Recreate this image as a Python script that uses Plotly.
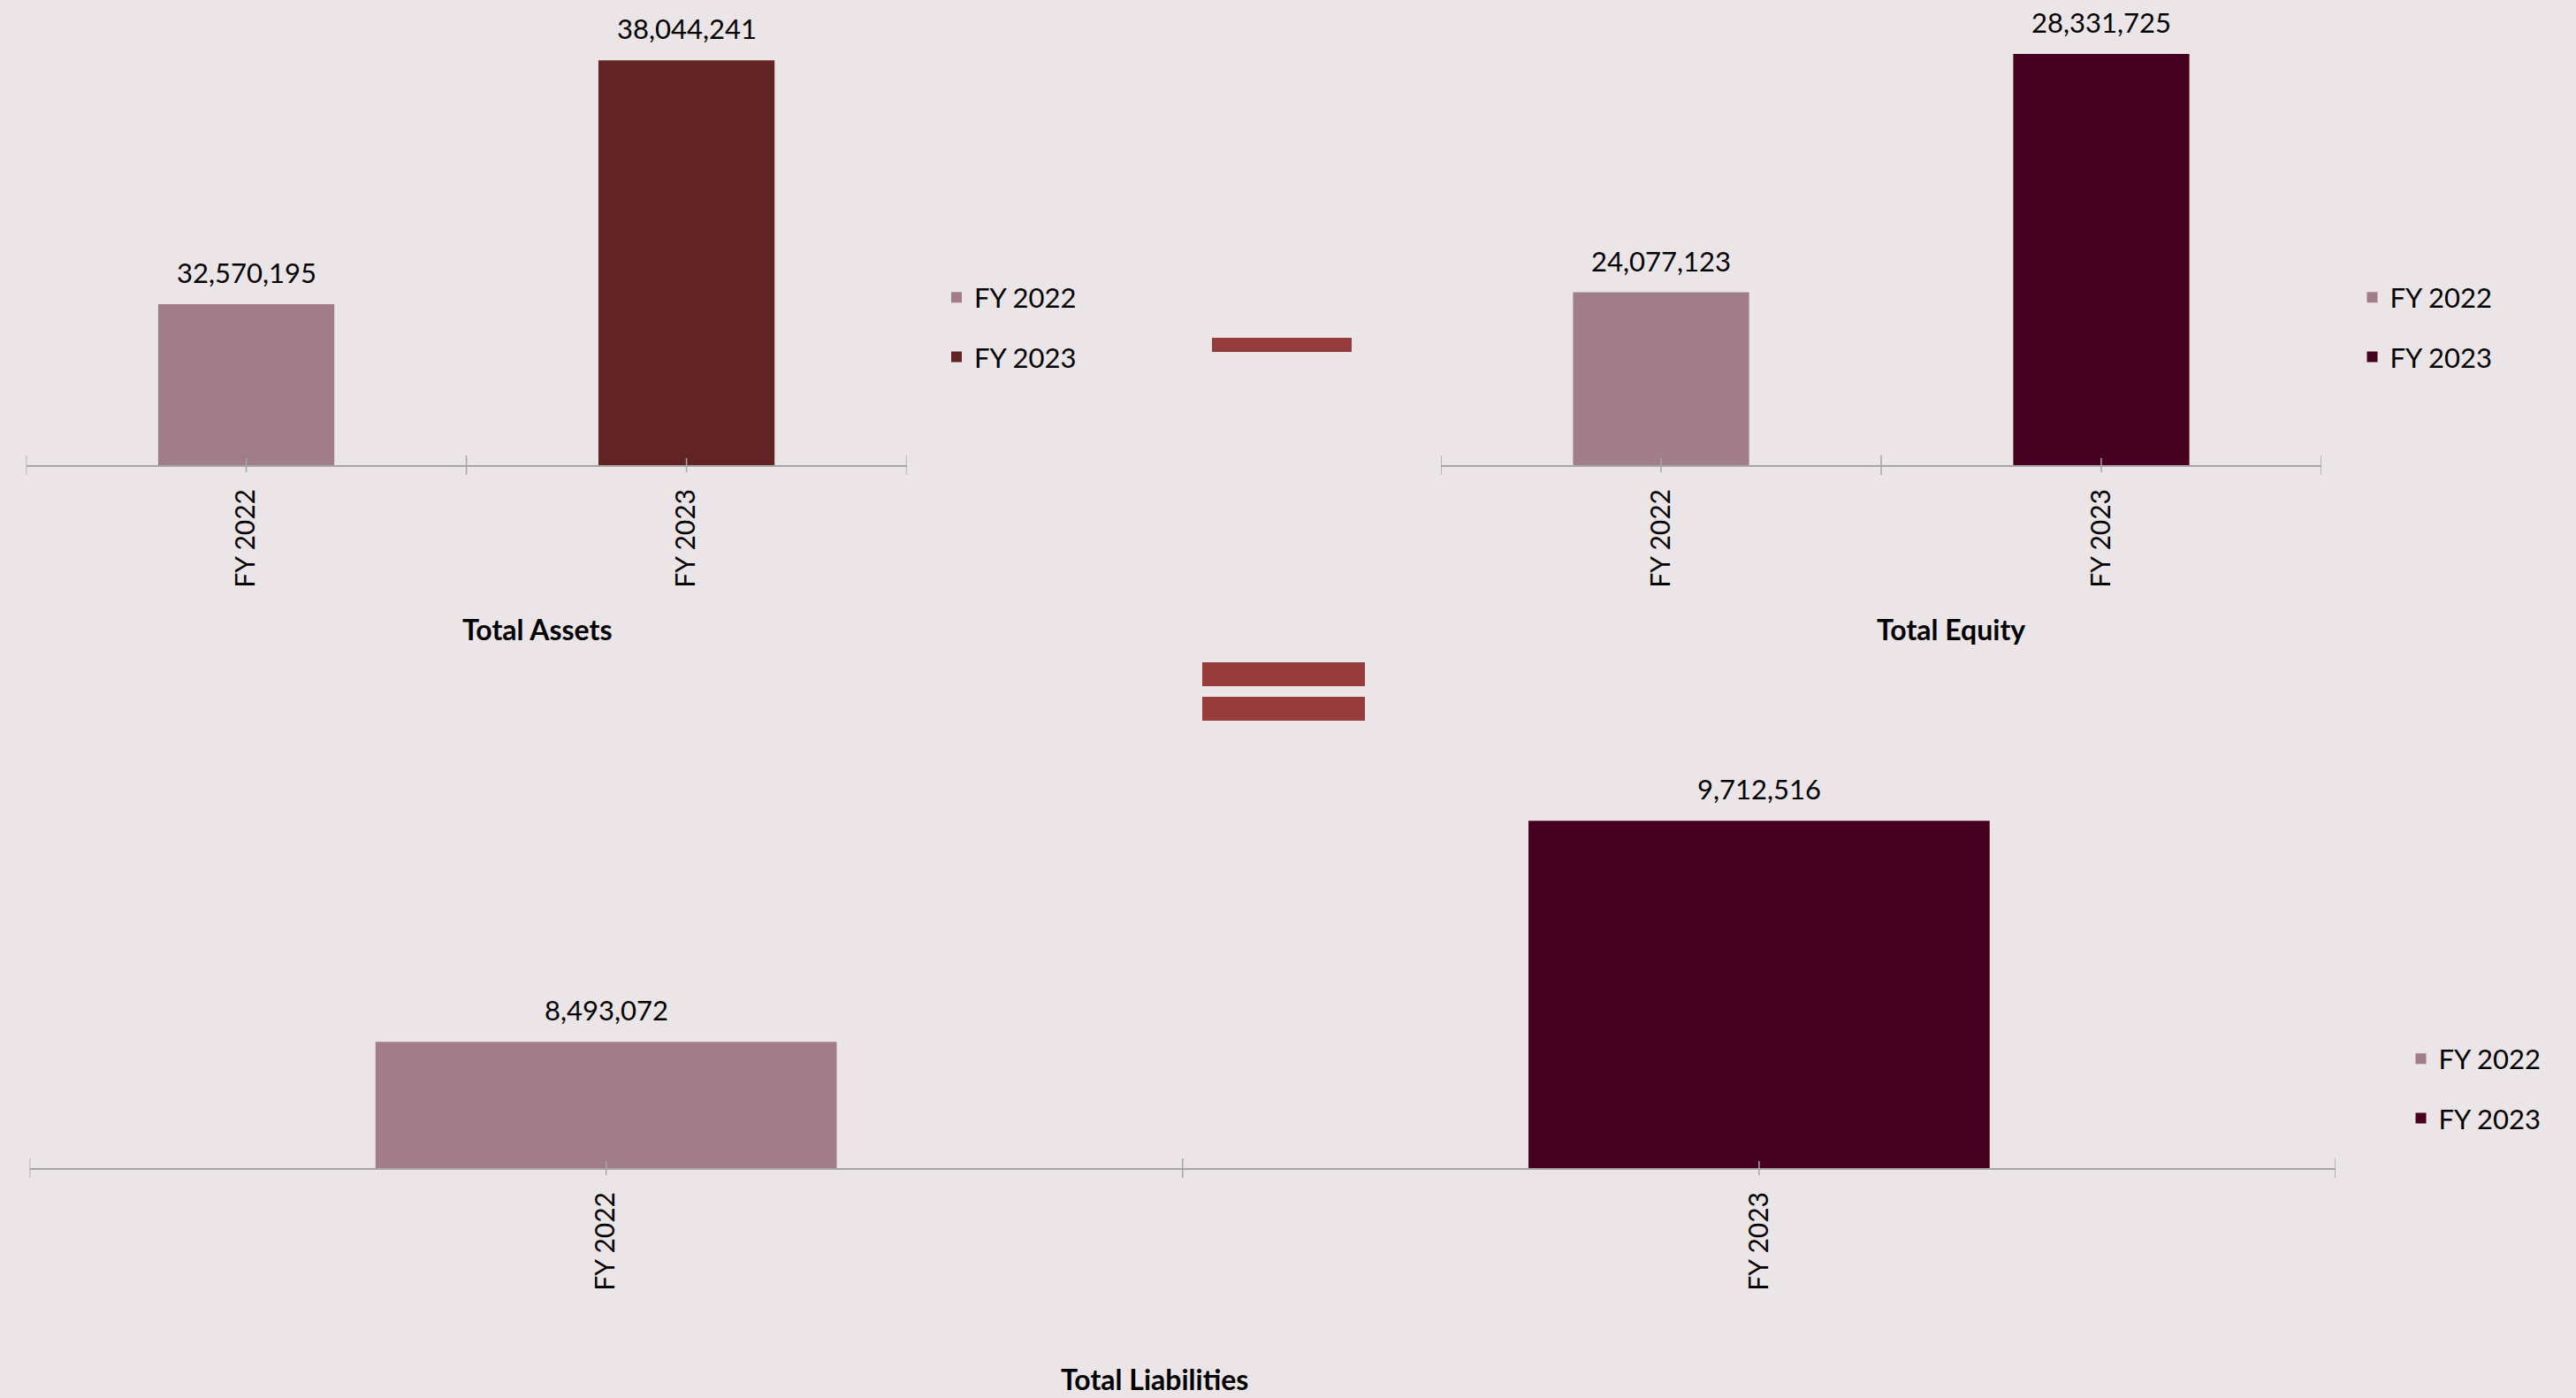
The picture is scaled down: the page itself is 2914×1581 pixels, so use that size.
import plotly.graph_objects as go

W, H = 2914, 1581

# ---------------- data ----------------
categories = ["FY 2022", "FY 2023"]
total_assets = [32570195, 38044241]
total_equity = [24077123, 28331725]
total_liabilities = [8493072, 9712516]
panel_titles = ["Total Assets", "Total Equity", "Total Liabilities"]

# ---------------- style ----------------
FY22 = "#A07D88"
assets_colors = [FY22, "#622325"]
equity_colors = [FY22, "#44001E"]
liab_colors = [FY22, "#44001E"]
SIGN = "#963C3C"
BG = "#EBE5E7"
AXIS = "#A6A6A6"
FONT = "Lato"
TXT = "#000000"


def fx(p):
    return p / W


def fy(p):
    return 1 - p / H


panels = [
    dict(values=total_assets, colors=assets_colors, xa="x", ya="y",
         xdom=(29.5, 1025.6), ydom=(526, 20), yrange=(28.96e6, 39.0e6),
         legend="legend", leg=(1062, 370), title=panel_titles[0], tpos=(607, 711)),
    dict(values=total_equity, colors=equity_colors, xa="x2", ya="y2",
         xdom=(1630, 2626), ydom=(526, 20), yrange=(20.99e6, 28.98e6),
         legend="legend2", leg=(2663.5, 370), title=panel_titles[1], tpos=(2207, 711)),
    dict(values=total_liabilities, colors=liab_colors, xa="x3", ya="y3",
         xdom=(33.5, 2642), ydom=(1321, 880), yrange=(7.797e6, 9.948e6),
         legend="legend3", leg=(2718.5, 1231), title=panel_titles[2], tpos=(1306, 1559)),
]

fig = go.Figure()
layout = dict(
    width=W, height=H,
    margin=dict(l=0, r=0, t=0, b=0),
    paper_bgcolor=BG, plot_bgcolor=BG,
    barmode="overlay",
    font=dict(family=FONT, size=31, color=TXT),
    showlegend=True,
)
annotations = []
shapes = []

for i, p in enumerate(panels):
    sfx = "" if i == 0 else str(i + 1)
    for j, (cat, val, col) in enumerate(zip(categories, p["values"], p["colors"])):
        fig.add_trace(go.Bar(
            x=[cat], y=[val], name=cat, width=0.4,
            marker=dict(color=col, line=dict(width=0)),
            xaxis=p["xa"], yaxis=p["ya"], legend=p["legend"],
            legendgroup=f"p{i}-{j}", hoverinfo="skip",
        ))
        annotations.append(dict(
            x=cat, y=val, xref=p["xa"], yref=p["ya"],
            text=f"{val:,}", showarrow=False, yanchor="middle", yshift=36,
            font=dict(family=FONT, size=31, color=TXT),
        ))
    layout["xaxis" + sfx] = dict(
        domain=[fx(p["xdom"][0]), fx(p["xdom"][1])],
        anchor=p["ya"], type="category", range=[-0.5, len(categories) - 0.5],
        showline=True, linecolor=AXIS, linewidth=2, ticks="",
        showgrid=False, zeroline=False, tickangle=-90,
        ticklabelstandoff=13,
        tickfont=dict(family=FONT, size=30, color=TXT),
        fixedrange=True,
    )
    layout["yaxis" + sfx] = dict(
        domain=[fy(p["ydom"][0]), fy(p["ydom"][1])],
        anchor=p["xa"], range=list(p["yrange"]),
        showline=False, showgrid=False, zeroline=False,
        showticklabels=False, ticks="", fixedrange=True,
    )
    # crossing tick marks (boundaries and category centres)
    n = len(categories)
    for k in range(n + 1):
        shapes.append(dict(type="line", xref=p["xa"], yref=p["ya"] + " domain",
                           x0=k - 0.5, x1=k - 0.5, ysizemode="pixel", yanchor=0,
                           y0=-11, y1=11, line=dict(color=AXIS, width=1.5), layer="above"))
    for k in range(n):
        shapes.append(dict(type="line", xref=p["xa"], yref=p["ya"] + " domain",
                           x0=k, x1=k, ysizemode="pixel", yanchor=0,
                           y0=-8, y1=8, line=dict(color=AXIS, width=1.5), layer="above"))
    layout[p["legend"]] = dict(
        x=fx(p["leg"][0]), y=fy(p["leg"][1]), xanchor="left", yanchor="middle",
        bgcolor="rgba(0,0,0,0)", font=dict(family=FONT, size=31, color=TXT),
        tracegroupgap=24, traceorder="grouped",
    )
    annotations.append(dict(
        x=fx(p["tpos"][0]), y=fy(p["tpos"][1]), xref="paper", yref="paper",
        text=f"<b>{p['title']}</b>", showarrow=False,
        xanchor="center", yanchor="middle",
        font=dict(family=FONT, size=32, color=TXT),
    ))

# minus and equals signs between panels
shapes.append(dict(type="rect", xref="paper", yref="paper",
                   x0=fx(1371), x1=fx(1529), y0=fy(398), y1=fy(382),
                   fillcolor=SIGN, line=dict(width=0)))
shapes.append(dict(type="rect", xref="paper", yref="paper",
                   x0=fx(1360), x1=fx(1544), y0=fy(776), y1=fy(749),
                   fillcolor=SIGN, line=dict(width=0)))
shapes.append(dict(type="rect", xref="paper", yref="paper",
                   x0=fx(1360), x1=fx(1544), y0=fy(815), y1=fy(788),
                   fillcolor=SIGN, line=dict(width=0)))

layout["annotations"] = annotations
layout["shapes"] = shapes
fig.update_layout(**layout)

fig.write_html("out.html")
